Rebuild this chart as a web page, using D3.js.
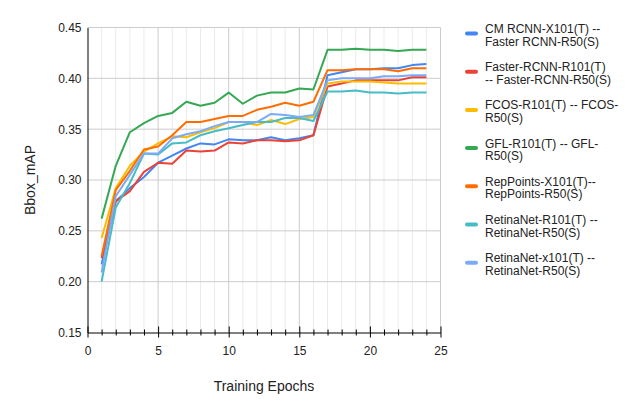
<!DOCTYPE html>
<html>
<head>
<meta charset="utf-8">
<script src="https://cdn.jsdelivr.net/npm/d3@7"></script>
<style>
  body { margin: 0; background: #fff; }
  text { font-family: "Liberation Sans", Arial, sans-serif; }
</style>
</head>
<body>
<div id="chart"></div>
<script>
// Epochs on the x axis
const epochs = d3.range(1, 25);

// Series values
const cmRcnn = [0.217, 0.279, 0.292, 0.303, 0.317, 0.324, 0.331, 0.336, 0.335, 0.340, 0.339, 0.339, 0.342, 0.339, 0.341, 0.344, 0.403, 0.406, 0.409, 0.409, 0.410, 0.410, 0.413, 0.414];
const fasterRcnn = [0.223, 0.279, 0.289, 0.308, 0.317, 0.316, 0.329, 0.328, 0.329, 0.337, 0.336, 0.339, 0.339, 0.338, 0.339, 0.344, 0.392, 0.395, 0.398, 0.398, 0.398, 0.398, 0.401, 0.401];
const fcos = [0.243, 0.292, 0.314, 0.328, 0.336, 0.343, 0.342, 0.347, 0.351, 0.357, 0.357, 0.354, 0.359, 0.355, 0.360, 0.362, 0.395, 0.397, 0.397, 0.397, 0.396, 0.395, 0.395, 0.395];
const gfl = [0.262, 0.314, 0.347, 0.356, 0.363, 0.366, 0.377, 0.373, 0.376, 0.386, 0.375, 0.383, 0.386, 0.386, 0.390, 0.389, 0.428, 0.428, 0.429, 0.428, 0.428, 0.427, 0.428, 0.428];
const repPoints = [0.225, 0.290, 0.309, 0.330, 0.333, 0.344, 0.357, 0.357, 0.360, 0.363, 0.363, 0.369, 0.372, 0.376, 0.373, 0.377, 0.408, 0.408, 0.409, 0.409, 0.409, 0.407, 0.410, 0.410];
const retinaR101 = [0.200, 0.273, 0.297, 0.326, 0.325, 0.336, 0.337, 0.344, 0.348, 0.351, 0.354, 0.357, 0.357, 0.361, 0.361, 0.358, 0.387, 0.387, 0.388, 0.386, 0.386, 0.385, 0.386, 0.386];
const retinaX101 = [0.209, 0.284, 0.305, 0.326, 0.326, 0.341, 0.345, 0.348, 0.353, 0.357, 0.357, 0.357, 0.365, 0.364, 0.362, 0.364, 0.398, 0.400, 0.400, 0.400, 0.402, 0.402, 0.403, 0.403];

// Legend labels (two lines each) and colours
const seriesNames = [
  ["CM RCNN-X101(T) --", "Faster RCNN-R50(S)"],
  ["Faster-RCNN-R101(T)", "-- Faster-RCNN-R50(S)"],
  ["FCOS-R101(T) -- FCOS-", "R50(S)"],
  ["GFL-R101(T) -- GFL-", "R50(S)"],
  ["RepPoints-X101(T)--", "RepPoints-R50(S)"],
  ["RetinaNet-R101(T) --", "RetinaNet-R50(S)"],
  ["RetinaNet-x101(T) --", "RetinaNet-R50(S)"]
];
const seriesValues = [cmRcnn, fasterRcnn, fcos, gfl, repPoints, retinaR101, retinaX101];
const colors = ["#4285f4", "#ea4335", "#fbbc04", "#34a853", "#ff6d01", "#46bdc6", "#7baaf7"];

// Tick values
const xTicks = [0, 5, 10, 15, 20, 25];
const yTicks = [0.15, 0.20, 0.25, 0.30, 0.35, 0.40, 0.45];

const width = 641, height = 416;
const plotLeft = 87.5, plotRight = 440.5, plotTop = 27.5, plotBottom = 332.5;

const svg = d3.select("#chart")
  .append("svg")
  .attr("width", width)
  .attr("height", height);

const x = d3.scaleLinear().domain([0, 25]).range([plotLeft, plotRight]);
const y = d3.scaleLinear().domain([0.15, 0.45]).range([plotBottom, plotTop]);

// Minor vertical grid (every epoch)
svg.append("g")
  .selectAll("line")
  .data(d3.range(1, 25).filter(d => d % 5 !== 0))
  .join("line")
  .attr("x1", d => x(d)).attr("x2", d => x(d))
  .attr("y1", plotTop).attr("y2", plotBottom)
  .attr("stroke", "#ebebeb");

// Major vertical grid
svg.append("g")
  .selectAll("line")
  .data(xTicks.slice(1))
  .join("line")
  .attr("x1", d => x(d)).attr("x2", d => x(d))
  .attr("y1", plotTop).attr("y2", plotBottom)
  .attr("stroke", "#cccccc");

// Horizontal grid
svg.append("g")
  .selectAll("line")
  .data(yTicks.slice(1))
  .join("line")
  .attr("x1", plotLeft).attr("x2", plotRight)
  .attr("y1", d => y(d)).attr("y2", d => y(d))
  .attr("stroke", "#cccccc");

// X axis with crossing ticks
const xAxis = svg.append("g")
  .attr("transform", `translate(0,${plotBottom})`)
  .call(d3.axisBottom(x)
    .tickValues(d3.range(0, 26))
    .tickSizeOuter(0)
    .tickFormat(d => d % 5 === 0 ? d : ""));
xAxis.select(".domain").attr("stroke", "#000");
xAxis.selectAll(".tick line")
  .attr("stroke", "#000")
  .attr("y1", d => d % 5 === 0 ? -6 : -3)
  .attr("y2", d => d % 5 === 0 ? 5 : 3);
xAxis.selectAll(".tick text")
  .attr("y", 14)
  .attr("fill", "#222")
  .style("font-size", "12px");

// Y axis
const yAxis = svg.append("g")
  .attr("transform", `translate(${plotLeft},0)`)
  .call(d3.axisLeft(y)
    .tickValues(yTicks)
    .tickSize(0)
    .tickPadding(6)
    .tickFormat(d3.format(".2f")));
yAxis.select(".domain").attr("stroke", "#000");
yAxis.selectAll(".tick text")
  .attr("fill", "#222")
  .style("font-size", "12px");

// Axis titles
svg.append("text")
  .attr("x", (plotLeft + plotRight) / 2)
  .attr("y", 391)
  .attr("text-anchor", "middle")
  .attr("fill", "#222")
  .style("font-size", "14px")
  .text("Training Epochs");

svg.append("text")
  .attr("transform", `translate(35,${(plotTop + plotBottom) / 2}) rotate(-90)`)
  .attr("text-anchor", "middle")
  .attr("fill", "#222")
  .style("font-size", "14px")
  .text("Bbox_mAP");

// Lines
const line = d3.line()
  .x((d, i) => x(epochs[i]))
  .y(d => y(d));

svg.append("g")
  .selectAll("path")
  .data(seriesValues)
  .join("path")
  .attr("fill", "none")
  .attr("stroke", (d, i) => colors[i])
  .attr("stroke-width", 2)
  .attr("stroke-linejoin", "round")
  .attr("d", line);

// Legend
const legend = svg.append("g")
  .selectAll("g")
  .data(seriesNames)
  .join("g")
  .attr("transform", (d, i) => `translate(465,${28.5 + i * 38.2})`);

legend.append("rect")
  .attr("x", 0).attr("y", 3)
  .attr("width", 13).attr("height", 4)
  .attr("rx", 2)
  .attr("fill", (d, i) => colors[i]);

legend.append("text")
  .attr("x", 20)
  .attr("fill", "#222")
  .style("font-size", "12px")
  .selectAll("tspan")
  .data(d => d)
  .join("tspan")
  .attr("x", 20)
  .attr("y", (d, i) => 4.5 + i * 12.7)
  .text(d => d);
</script>
</body>
</html>
